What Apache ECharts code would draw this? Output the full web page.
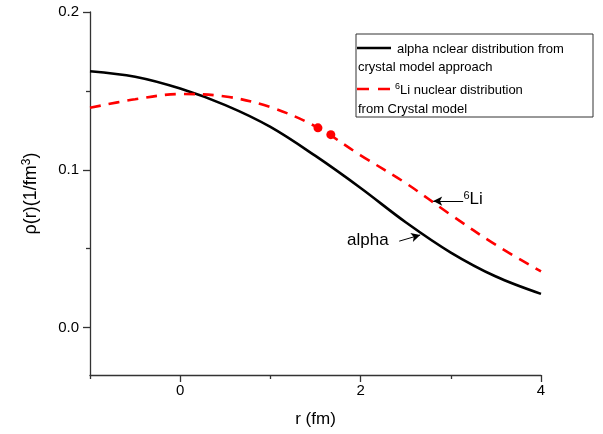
<!DOCTYPE html>
<html><head><meta charset="utf-8">
<script src="https://cdn.jsdelivr.net/npm/echarts@6/dist/echarts.min.js"></script>
<style>html,body{margin:0;padding:0;background:#fff}#c{width:603px;height:434px}</style>
</head><body><div id="c"></div>
<script>
var rValues = [-1, -0.5, 0, 0.5, 1, 1.5, 2, 2.5, 3, 3.5, 4];
var alphaDensity = [0.1625, 0.159, 0.1515, 0.141, 0.1272, 0.1088, 0.0885, 0.0668, 0.0476, 0.0324, 0.0214];
var li6Density = [0.1393, 0.1447, 0.148, 0.1465, 0.1397, 0.1275, 0.1092, 0.0916, 0.0715, 0.0524, 0.0356];
var dotR = [1.527, 1.67];
var dotRho = [0.1266, 0.1223];
var xLabelValues = [0, 2, 4];
var xMinorTicks = [-1, 1, 3];
var yLabelValues = [0, 0.1, 0.2];
var yMinorTicks = [0.05, 0.15];
var legendLine1 = 'alpha nclear distribution from';
var legendLine2 = 'crystal model approach';
var legendLine3 = 'Li nuclear distribution';
var legendLine4 = 'from Crystal model';
var alphaArrow = [[2.428, 0.0548], [2.661, 0.0587]];
var liArrow = [[3.137, 0.0802], [2.805, 0.0802]];
var alphaLabelPos = [1.85, 0.0552];
var liLabelPos = [3.14, 0.0812];

var FONT = '"Liberation Sans", Arial, sans-serif';
function pairs(xs, ys){ return xs.map(function(x,i){ return [x, ys[i]]; }); }

var chart = echarts.init(document.getElementById('c'), null, {renderer:'canvas'});
var axisCol = '#333';
var option = {
  animation: false,
  backgroundColor: '#fff',
  grid: {left: 90, right: 62, top: 12, bottom: 59, containLabel: false},
  xAxis: [{
    type: 'value', min: -1, max: 4, position: 'bottom',
    name: 'r (fm)', nameLocation: 'middle', nameGap: 36,
    nameTextStyle: {fontSize: 17, color: '#000', fontFamily: FONT},
    axisLine: {show: true, onZero: false, lineStyle: {color: axisCol, width: 1.3}},
    axisTick: {show: true, customValues: xLabelValues, length: 7, lineStyle: {color: axisCol, width: 1.3}},
    axisLabel: {customValues: xLabelValues, fontSize: 15, color: '#000', margin: 8, fontFamily: FONT},
    splitLine: {show: false}
  }, {
    type: 'value', min: -1, max: 4, position: 'bottom',
    axisLine: {show: false, onZero: false},
    axisTick: {show: true, customValues: xMinorTicks, length: 4, lineStyle: {color: axisCol, width: 1.3}},
    axisLabel: {show: false},
    splitLine: {show: false}
  }],
  yAxis: [{
    type: 'value', min: -0.03, max: 0.2, position: 'left',
    name: '{a|ρ(r)(1/fm}{s|3}{a|)}', nameLocation: 'middle', nameGap: 49, nameRotate: 90,
    nameTextStyle: {fontSize: 18, color: '#000', fontFamily: FONT,
      rich: {a: {fontSize: 18, fontFamily: FONT, color: '#000'}, s: {fontSize: 12, fontFamily: FONT, color: '#000', verticalAlign: 'top', padding: [0,0,8,0]}}},
    axisLine: {show: true, onZero: false, lineStyle: {color: axisCol, width: 1.3}},
    axisTick: {show: true, customValues: yLabelValues, length: 7, lineStyle: {color: axisCol, width: 1.3}},
    axisLabel: {customValues: yLabelValues, fontSize: 15, color: '#000', margin: 11, fontFamily: FONT,
      formatter: function(v){ return v.toFixed(1); }},
    splitLine: {show: false}
  }, {
    type: 'value', min: -0.03, max: 0.2, position: 'left',
    axisLine: {show: false, onZero: false},
    axisTick: {show: true, customValues: yMinorTicks, length: 4, lineStyle: {color: axisCol, width: 1.3}},
    axisLabel: {show: false},
    splitLine: {show: false}
  }],
  series: [{
    type: 'line', name: 'alpha', data: pairs(rValues, alphaDensity), smooth: 0.35,
    showSymbol: false, lineStyle: {color: '#000', width: 2.6},
    markLine: {
      silent: true, symbol: ['none', 'arrow'], symbolSize: [7, 9], label: {show: false},
      lineStyle: {color: '#000', width: 1, type: 'solid'},
      data: [
        [{coord: alphaArrow[0]}, {coord: alphaArrow[1]}],
        [{coord: liArrow[0]}, {coord: liArrow[1]}]
      ]
    }
  }, {
    type: 'line', name: '6Li', data: pairs(rValues, li6Density), smooth: 0.35,
    showSymbol: false, lineStyle: {color: '#ff0000', width: 2.6, type: [11, 8]}
  }, {
    type: 'scatter', data: pairs(dotR, dotRho), symbolSize: 9,
    itemStyle: {color: '#ff0000', opacity: 1}
  }]
};
chart.setOption(option);

var pA = chart.convertToPixel({gridIndex: 0}, alphaLabelPos);
var pL = chart.convertToPixel({gridIndex: 0}, liLabelPos);
chart.setOption({
  graphic: [
    {type: 'rect', shape: {x: 356, y: 34, width: 237, height: 83}, style: {fill: '#fff', stroke: '#333', lineWidth: 1}, z: 10},
    {type: 'line', shape: {x1: 357, y1: 48, x2: 391, y2: 48}, style: {stroke: '#000', lineWidth: 2.6}, z: 11},
    {type: 'line', shape: {x1: 357, y1: 89, x2: 391, y2: 89}, style: {stroke: '#ff0000', lineWidth: 2.6, lineDash: [12, 9]}, z: 11},
    {type: 'text', x: 397, y: 49, style: {text: legendLine1, font: '13px ' + FONT, fill: '#000', verticalAlign: 'middle'}, z: 11},
    {type: 'text', x: 358, y: 67, style: {text: legendLine2, font: '13px ' + FONT, fill: '#000', verticalAlign: 'middle'}, z: 11},
    {type: 'text', x: 395, y: 90, style: {text: '{s|6}{a|' + legendLine3 + '}', verticalAlign: 'middle', fill: '#000',
      rich: {a: {fontSize: 13, fontFamily: FONT, fill: '#000'}, s: {fontSize: 9, fontFamily: FONT, fill: '#000', verticalAlign: 'top', padding: [0,0,6,0]}}}, z: 11},
    {type: 'text', x: 358, y: 109, style: {text: legendLine4, font: '13px ' + FONT, fill: '#000', verticalAlign: 'middle'}, z: 11},
    {type: 'text', x: pA[0], y: pA[1], style: {text: 'alpha', font: '17px ' + FONT, fill: '#000', verticalAlign: 'middle'}, z: 11},
    {type: 'text', x: pL[0], y: pL[1], style: {text: '{s|6}{a|Li}', verticalAlign: 'middle', fill: '#000',
      rich: {a: {fontSize: 17, fontFamily: FONT, fill: '#000'}, s: {fontSize: 11, fontFamily: FONT, fill: '#000', verticalAlign: 'top', padding: [0,0,8,0]}}}, z: 11}
  ]
});
</script></body></html>
